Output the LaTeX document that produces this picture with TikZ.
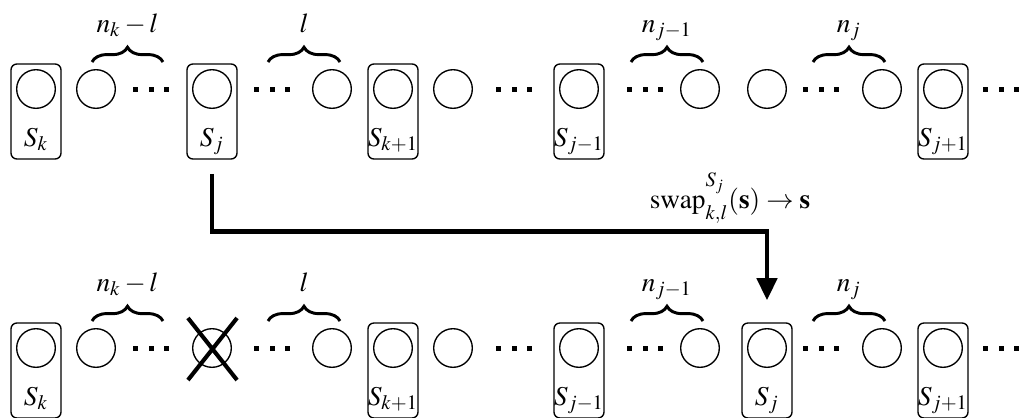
\documentclass[tikz,border=0pt]{standalone}
\usepackage{amsmath}
\usepackage{mathptmx}
\usepackage{tikz}
\usetikzlibrary{arrows.meta,decorations.pathreplacing,shapes.misc}
\newcommand{\sqdots}{\rule{2.2pt}{2.2pt}\hspace{4.8pt}\rule{2.2pt}{2.2pt}\hspace{4.8pt}\rule{2.2pt}{2.2pt}}
\tikzset{
ball/.style={circle,draw,line width=0.6pt,minimum size=17pt,inner sep=0pt},
slot/.style={draw,rounded corners=2.6pt,line width=0.6pt,minimum width=22pt,minimum height=41.8pt,inner sep=0pt},
group/.style={decorate,decoration={brace,amplitude=6.5pt},line width=1.3pt},
swaparrow/.style={line width=2pt,-{Triangle[length=9.7pt,width=8.8pt]},shorten <=6.2pt,shorten >=9.7pt}
}

\begin{document}
\begin{tikzpicture}[x=0.44pt,y=-0.44pt,font=\fontsize{12pt}{14pt}\selectfont]
\useasboundingbox (0,0) rectangle (1019,417);
\foreach \r/\y in {t/89,b/348}{
\foreach \x/\n in {96/1,332/2,453/3,700/4,882/5} \node[ball] (\r c\n) at (\x,\y) {};
\foreach \x/\n in {151/1,272/2,514/3,645/4,821/5,1001/6} \node[inner sep=0pt] (\r d\n) at (\x,\y) {\sqdots};
\foreach \xa/\xb/\lab/\n in {92/163/n_k-l/1,268/340/l/2,631/703/n_{j-1}/3,813/885/n_j/4}{
\draw[group] (\xa,\y-27) -- (\xb,\y-27); \node[anchor=base] (\r g\n) at ({(\xa+\xb)/2},\y-57) {$\lab$};}
\foreach \x/\n/\lab in {36/k/S_k,393/kk/S_{k+1},579/jm/S_{j-1},943/jp/S_{j+1}}{
\node[slot] (\r box\n) at (\x,\y+22.5) {}; \node[ball] (\r ball\n) at (\x,\y) {}; \node[anchor=base,inner sep=0pt] (\r lab\n) at (\x,\y+57) {$\lab$};}
}
\node[slot] (tSj) at (212,111.5) {}; \node[ball] (tSjc) at (212,89) {}; \node[anchor=base,inner sep=0pt] (tSjl) at (212,146) {$S_j$}; \node[ball] (tc6) at (767,89) {};
\node[ball] (bx) at (212,348) {}; \node[draw,cross out,line width=1.8pt,minimum width=19.8pt,minimum height=25.5pt,inner sep=0pt] (bcross) at (212.5,349) {};
\node[slot] (bSj) at (767,370.5) {}; \node[ball] (bSjc) at (767,348) {}; \node[anchor=base,inner sep=0pt] (bSjl) at (767,405) {$S_j$};
\draw[swaparrow] (tSj.south) -- ++(0,72) -| (bSj.north);
\node[anchor=base,inner sep=0pt] (swaplbl) at (730,208) {$\mathrm{swap}^{\raisebox{5pt}{$\scriptstyle S_j$}}_{\raisebox{-2pt}{$\scriptstyle k,l$}}(\mathbf{s})\rightarrow\mathbf{s}$};
\end{tikzpicture}
\end{document}
